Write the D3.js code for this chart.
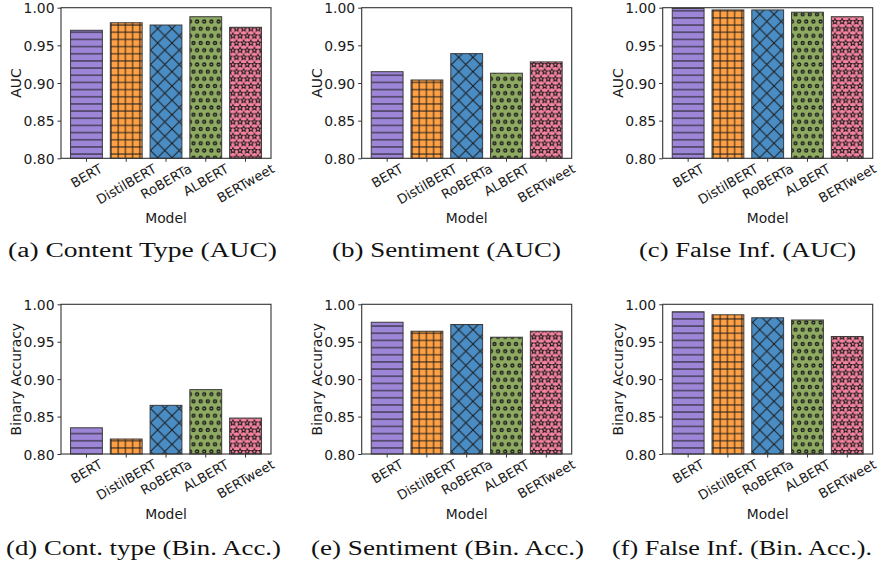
<!DOCTYPE html>
<html><head><meta charset="utf-8">
<script src="https://cdn.jsdelivr.net/npm/d3@7"></script>
<style>body{margin:0;background:#fff}svg{display:block}</style>
</head><body><svg id="c" width="878" height="564"></svg>
<script>
// ---- data ----
const models = ["BERT", "DistilBERT", "RoBERTa", "ALBERT", "BERTweet"];
const aucContent   = [0.970, 0.980, 0.977, 0.988, 0.974];
const aucSentiment = [0.915, 0.904, 0.939, 0.913, 0.928];
const aucFalse     = [0.999, 0.997, 0.997, 0.994, 0.988];
const accContent   = [0.835, 0.820, 0.865, 0.886, 0.848];
const accSentiment = [0.976, 0.964, 0.973, 0.956, 0.964];
const accFalse     = [0.990, 0.986, 0.982, 0.979, 0.957];
const yTicks = [0.80, 0.85, 0.90, 0.95, 1.00];
const yDomain = [0.80, 1.00];
const xLabel = "Model";
const yLabels = ["AUC", "AUC", "AUC", "Binary Accuracy", "Binary Accuracy", "Binary Accuracy"];
const captions = ["(a) Content Type (AUC)", "(b) Sentiment (AUC)", "(c) False Inf. (AUC)",
                  "(d) Cont. type (Bin. Acc.)", "(e) Sentiment (Bin. Acc.)", "(f) False Inf. (Bin. Acc.)."];
const seriesList = [aucContent, aucSentiment, aucFalse, accContent, accSentiment, accFalse];

// ---- style / layout ----
const colors = ["#9d86d8", "#ffa044", "#4a8cc4", "#8fab62", "#f5829f"];
const hatchIds = ["hl", "plus", "xx", "circ", "star"];
const cols = [61, 361.7, 662.7];
const rows = [{top: 7.7, bottom: 158.3, capY: 257}, {top: 304.3, bottom: 454, capY: 555}];
const capLayout = [[8, 269], [332, 229], [639, 217], [6, 275], [311, 273], [612, 260]];
const plotW = 210;
const FONT = "DejaVu Sans";
const fs = 13.9;
const fsx = 13.2;

const svg = d3.select("#c");
const defs = svg.append("defs");
const U = 43 / 6; // hatch spacing
const hc = "#1c1c1c";

// horizontal lines
let p = defs.append("pattern").attr("id", "hl").attr("patternUnits", "userSpaceOnUse")
  .attr("width", U).attr("height", U);
p.append("line").attr("x1", -1).attr("x2", U + 1).attr("y1", U / 2).attr("y2", U / 2)
  .attr("stroke", hc).attr("stroke-width", 1);
// plus grid
p = defs.append("pattern").attr("id", "plus").attr("patternUnits", "userSpaceOnUse")
  .attr("width", U).attr("height", U);
p.append("line").attr("x1", -1).attr("x2", U + 1).attr("y1", U / 2).attr("y2", U / 2)
  .attr("stroke", hc).attr("stroke-width", 1);
p.append("line").attr("y1", -1).attr("y2", U + 1).attr("x1", U / 2).attr("x2", U / 2)
  .attr("stroke", hc).attr("stroke-width", 1);
// diagonal cross
const D = 2 * U;
p = defs.append("pattern").attr("id", "xx").attr("patternUnits", "userSpaceOnUse")
  .attr("width", D).attr("height", D);
[[-1, -1, D + 1, D + 1], [-1, D + 1, D + 1, -1]].forEach(l =>
  p.append("line").attr("x1", l[0]).attr("y1", l[1]).attr("x2", l[2]).attr("y2", l[3])
   .attr("stroke", hc).attr("stroke-width", 1));
// circles (staggered)
p = defs.append("pattern").attr("id", "circ").attr("patternUnits", "userSpaceOnUse")
  .attr("width", U).attr("height", 2 * U);
[[0, 0], [U, 0], [0, 2 * U], [U, 2 * U], [U / 2, U]].forEach(c =>
  p.append("circle").attr("cx", c[0]).attr("cy", c[1]).attr("r", 1.5)
   .attr("fill", "none").attr("stroke", hc).attr("stroke-width", 1.4));
// stars (staggered)
function starPath(cx, cy, R, r) {
  let pts = [];
  for (let i = 0; i < 10; i++) {
    const a = -Math.PI / 2 + i * Math.PI / 5;
    const rad = i % 2 === 0 ? R : r;
    pts.push([cx + rad * Math.cos(a), cy + rad * Math.sin(a)]);
  }
  return "M" + pts.map(q => q.join(",")).join("L") + "Z";
}
p = defs.append("pattern").attr("id", "star").attr("patternUnits", "userSpaceOnUse")
  .attr("width", U).attr("height", 2 * U);
[[0, 0], [U, 0], [0, 2 * U], [U, 2 * U], [U / 2, U]].forEach(c =>
  p.append("path").attr("d", starPath(c[0], c[1], 2.8, 1.35))
   .attr("fill", "none").attr("stroke", hc).attr("stroke-width", 1.05));

seriesList.forEach((vals, k) => {
  const left = cols[k % 3], row = rows[Math.floor(k / 3)];
  const right = left + plotW;
  const g = svg.append("g");
  const x = d3.scaleBand().domain(models).range([left, right])
    .paddingInner(0.2).paddingOuter(0.24);
  const y = d3.scaleLinear().domain(yDomain).range([row.bottom, row.top]);

  // bars
  models.forEach((m, i) => {
    const bx = x(m), bw = x.bandwidth(), by = y(vals[i]), bh = y(yDomain[0]) - y(vals[i]);
    g.append("rect").attr("x", bx).attr("y", by).attr("width", bw).attr("height", bh)
      .attr("fill", colors[i]);
    g.append("rect").attr("x", bx).attr("y", by).attr("width", bw).attr("height", bh)
      .attr("fill", "url(#" + hatchIds[i] + ")");
    g.append("rect").attr("x", bx).attr("y", by).attr("width", bw).attr("height", bh)
      .attr("fill", "none").attr("stroke", "#3a3a3a").attr("stroke-width", 1);
  });

  // frame
  g.append("rect").attr("x", left).attr("y", row.top).attr("width", plotW)
    .attr("height", row.bottom - row.top).attr("fill", "none")
    .attr("stroke", "#333").attr("stroke-width", 1.1);

  // y axis
  const ya = d3.axisLeft(y).tickValues(yTicks).tickFormat(d3.format(".2f"))
    .tickSize(3.5).tickPadding(3);
  const yg = g.append("g").attr("transform", `translate(${left},0)`).call(ya);
  yg.select(".domain").remove();
  yg.selectAll(".tick line").attr("stroke", "#333").attr("stroke-width", 1);
  yg.selectAll(".tick text").attr("font-family", FONT).attr("font-size", fs)
    .attr("fill", "#1a1a1a").attr("dy", "0.36em");

  // x axis
  const xa = d3.axisBottom(x).tickSize(3.5).tickFormat("");
  const xg = g.append("g").attr("transform", `translate(0,${row.bottom})`).call(xa);
  xg.select(".domain").remove();
  xg.selectAll(".tick line").attr("stroke", "#333").attr("stroke-width", 1);

  models.forEach(m => {
    const t = g.append("text").text(m).attr("font-family", FONT).attr("font-size", fsx)
      .attr("fill", "#1a1a1a").attr("text-anchor", "middle").attr("dy", "0.36em");
    const w = t.node().getComputedTextLength();
    const capH = 0.73 * fsx;
    const hb = w * 0.5 + capH * 0.866;
    const cx = x(m) + x.bandwidth() / 2;
    const cy = row.bottom + 4.8 + hb / 2;
    t.attr("transform", `translate(${cx},${cy}) rotate(-30)`);
  });

  // axis labels
  g.append("text").text(xLabel).attr("x", left + plotW / 2).attr("y", row.bottom + 65)
    .attr("text-anchor", "middle").attr("font-family", FONT).attr("font-size", fs)
    .attr("fill", "#1a1a1a");
  g.append("text").text(yLabels[k])
    .attr("transform", `translate(${left - 40},${(row.top + row.bottom) / 2}) rotate(-90)`)
    .attr("text-anchor", "middle").attr("font-family", FONT).attr("font-size", fs)
    .attr("fill", "#1a1a1a");

  // caption
  svg.append("text").text(captions[k]).attr("x", capLayout[k][0]).attr("y", row.capY)
    .attr("font-family", "Liberation Serif").attr("font-size", 20.5)
    .attr("textLength", capLayout[k][1]).attr("lengthAdjust", "spacingAndGlyphs")
    .attr("fill", "#111");
});
</script></body></html>
